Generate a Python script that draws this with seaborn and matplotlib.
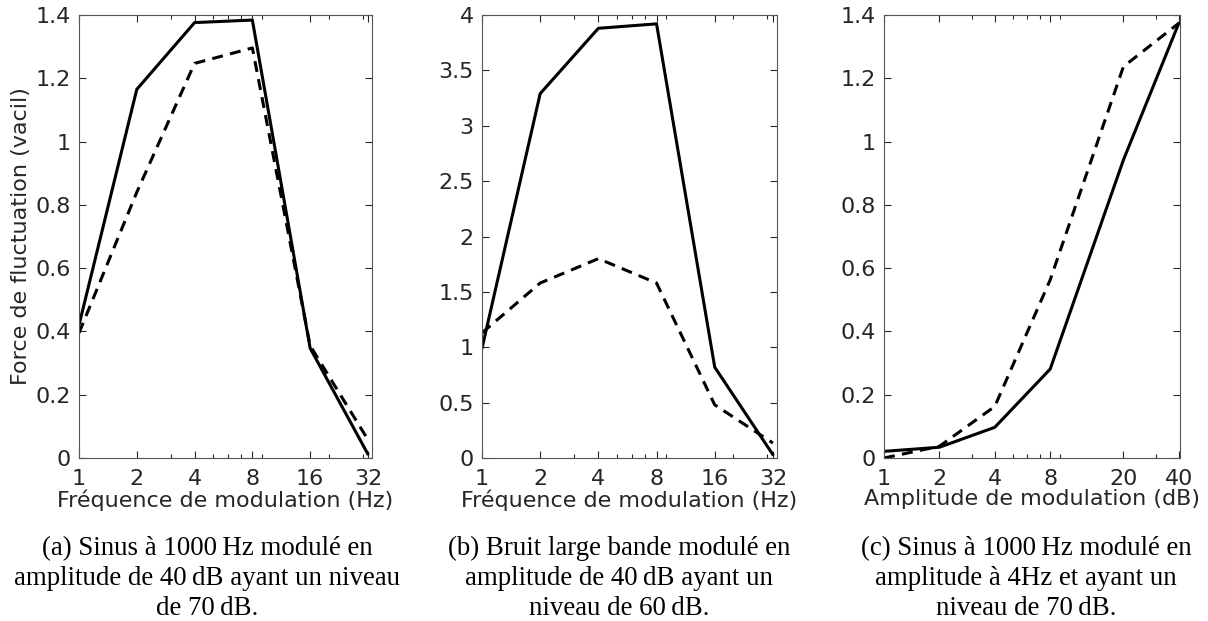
import numpy as np
import pandas as pd
import matplotlib
matplotlib.use("Agg")
import matplotlib.pyplot as plt
import seaborn as sns
from matplotlib.ticker import FixedLocator, LogLocator, NullFormatter, FuncFormatter

# ---- data ----
freq = [1, 2, 4, 8, 16, 32]
a_solid = [0.42, 1.165, 1.376, 1.384, 0.347, 0.012]
a_dashed = [0.395, 0.84, 1.247, 1.296, 0.355, 0.058]

b_solid = [0.99, 3.29, 3.88, 3.92, 0.82, 0.03]
b_dashed = [1.13, 1.58, 1.80, 1.58, 0.48, 0.135]

ampl = [1, 2, 4, 8, 20, 40]
c_solid = [0.021, 0.034, 0.097, 0.281, 0.942, 1.374]
c_dashed = [0.0, 0.037, 0.163, 0.563, 1.237, 1.374]

a_yticks = [0, 0.2, 0.4, 0.6, 0.8, 1, 1.2, 1.4]
b_yticks = [0, 0.5, 1, 1.5, 2, 2.5, 3, 3.5, 4]
c_yticks = a_yticks

freq_ticks = [1, 2, 4, 8, 16, 32]
ampl_ticks = [1, 2, 4, 8, 20, 40]

xlabel_freq = "Fréquence de modulation (Hz)"
xlabel_ampl = "Amplitude de modulation (dB)"
ylabel = "Force de fluctuation (vacil)"

captions = [
    ["(a) Sinus à 1000\u2009Hz modulé en", "amplitude de 40\u2009dB ayant un niveau", "de 70\u2009dB."],
    ["(b) Bruit large bande modulé en", "amplitude de 40\u2009dB ayant un", "niveau de 60\u2009dB."],
    ["(c) Sinus à 1000\u2009Hz modulé en", "amplitude à 4Hz et ayant un", "niveau de 70\u2009dB."],
]

sns.set_style("ticks")
plt.rcParams['font.family'] = ['DejaVu Sans']

W, H = 1208, 621
fig = plt.figure(figsize=(W / 100, H / 100), dpi=100)

def axrect(l, r, t, b):
    return [l / W, (H - b) / H, (r - l) / W, (b - t) / H]

rects = [axrect(79, 372, 15, 458), axrect(482, 777, 15, 458), axrect(884, 1180, 15, 458)]
panels = [
    (freq, a_solid, a_dashed, a_yticks, (0, 1.4), freq_ticks, (1, 33.6), xlabel_freq),
    (freq, b_solid, b_dashed, b_yticks, (0, 4), freq_ticks, (1, 33.6), xlabel_freq),
    (ampl, c_solid, c_dashed, c_yticks, (0, 1.4), ampl_ticks, (1, 40.6), xlabel_ampl),
]
tc = "#262626"
for i, (rect, (x, ys, yd, yt, ylim, xt, xlim, xl)) in enumerate(zip(rects, panels)):
    ax = fig.add_axes(rect)
    df = pd.DataFrame({"x": x + x, "y": ys + yd,
                       "s": ["solid"] * len(x) + ["dashed"] * len(x)})
    sns.lineplot(data=df[df.s == "solid"], x="x", y="y", ax=ax, color="black",
                 lw=2.2, linestyle="-", legend=False)
    sns.lineplot(data=df[df.s == "dashed"], x="x", y="y", ax=ax, color="black",
                 lw=2.2, linestyle=(0, (3.6, 2.4)), legend=False)
    ax.set_xscale("log")
    ax.set_xlim(*xlim)
    ax.set_ylim(*ylim)
    ax.xaxis.set_major_locator(FixedLocator(xt))
    ax.xaxis.set_major_formatter(FuncFormatter(lambda v, p: f"{v:g}"))
    ax.xaxis.set_minor_locator(LogLocator(base=10, subs=np.arange(2, 10)))
    ax.xaxis.set_minor_formatter(NullFormatter())
    ax.set_yticks(yt)
    ax.set_yticklabels([f"{v:g}" for v in yt])
    ax.tick_params(which="both", direction="in", top=True, right=True,
                   labelsize=16, colors=tc, width=0.8)
    ax.tick_params(which="major", length=5)
    ax.tick_params(which="minor", length=3)
    ax.tick_params(axis="x", which="major", pad=8)
    ax.tick_params(axis="y", which="major", pad=6)
    for sp in ax.spines.values():
        sp.set_visible(True)
        sp.set_color("#555555")
        sp.set_linewidth(0.8)
    ax.set_xlabel(xl, fontsize=16, color=tc, labelpad=0)
    if i == 0:
        ax.set_ylabel(ylabel, fontsize=16, color=tc, labelpad=3)
    else:
        ax.set_ylabel("")

cap_x = [207, 619, 1026]
cap_base = [555, 585, 615]
for cx, lines in zip(cap_x, captions):
    for yb, line in zip(cap_base, lines):
        fig.text(cx / W, (H - yb) / H, line, ha="center", va="baseline",
                 family=["Liberation Serif", "DejaVu Serif"], fontsize=19.4,
                 color="black")

fig.savefig("out.png", dpi=100)
